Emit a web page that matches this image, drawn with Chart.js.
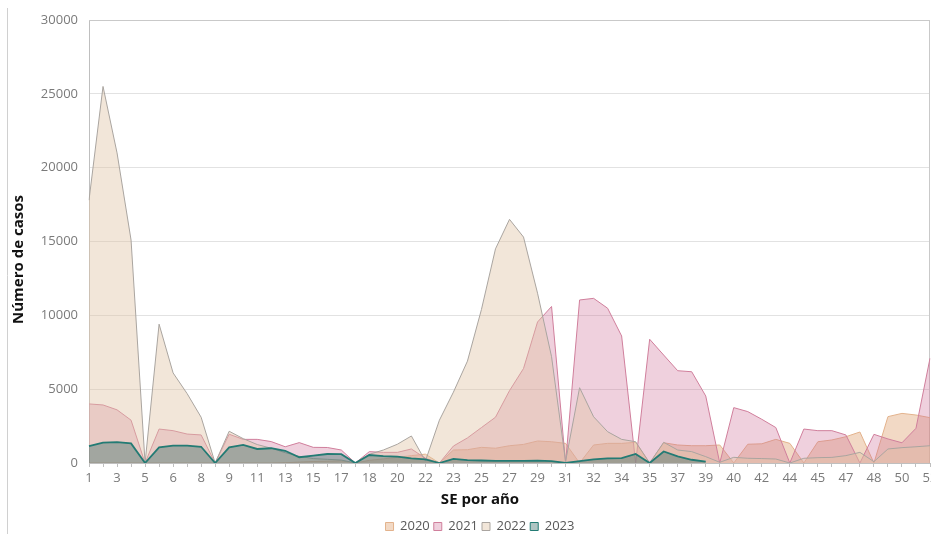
<!DOCTYPE html>
<html lang="es">
<head>
<meta charset="utf-8">
<title>Número de casos por SE</title>
<script src="https://cdn.jsdelivr.net/npm/chart.js@4.4.0/dist/chart.umd.min.js"></script>
<style>
    html, body { margin: 0; padding: 0; background: #fff; overflow: hidden; }
    #wrap { position: relative; width: 960px; height: 543px; }
</style>
</head>
<body>
<div id="wrap"><canvas id="casosChart"></canvas></div>
<script>
// '' = separador entre meses (sin etiqueta)
const weekLabels = ['1','2','3','4','5','','6','7','8','','9','10','11','12','13','14','15','16','17','',
    '18','19','20','21','22','','23','24','25','26','27','28','29','30','31','','32','33','34','',
    '35','36','37','38','39','','40','41','42','43','44','','45','46','47','','48','49','50','51','52'];

const cases2020 = [0,0,0,0,0, 0, 0,0,0, 0,
    0,0,0,0,20,60,100,120,150, 0, 180,280,380,500,600, 0,
    880,900,1060,1000,1170,1260,1490,1440,1330, 0, 1220,1330,1330, 1400,
    0,1370,1220,1170,1170, 1220, 0,1270,1300,1600,1330, 0, 1440,1560,1780, 2100,
    0,3140,3360,3250,3070];

const cases2021 = [4000,3930,3600,2900,0, 2300, 2190,1960,1900, 0,
    1950,1600,1600,1450,1100,1380,1060,1050,880, 0, 770,720,720,950,320, 0,
    1150,1700,2400,3100,4900,6400,9550,10600,0, 11040, 11150,10480,8600, 0,
    8380,7310,6250,6180,4540, 0, 3750,3480,2960,2400,0, 2300, 2190,2190,1900, 0,
    1940,1630,1370,2350,7090];

const cases2022 = [17800,25500,21000,15100,0, 9400, 6100,4700,3100, 0,
    2150,1650,1250,1000,700,450,300,250,200, 0, 590,880,1270,1830,130, 2900,
    4800,6900,10400,14500,16500,15300,11500,7200,100, 5100, 3130,2120,1600, 1440,
    0,1400,880,770,430, 50, 385,320,300,270,0, 320, 360,380,500, 720,
    90,950,1040,1100,1170];

const cases2023 = [1150,1380,1420,1330,0, 1060, 1170,1170,1100, 0,
    1060,1220,950,1000,830,390,500,610,600, 0, 540,470,430,320,250, 0,
    280,200,170,150,140,140,160,130,0, 130, 250,320,330, 610, 0,780,450,220,90,
    null,null,null,null,null,null,null,null,null,null,null,null,null,null,null,null];

const yTicks = [0, 5000, 10000, 15000, 20000, 25000, 30000];
const xTitle = 'SE por año';
const yTitle = 'Número de casos';

Chart.defaults.font.family = '"Open Sans", sans-serif';
Chart.defaults.color = '#7a7a7a';

// marco del área de trazado + títulos de ejes
const chartFrame = {
    id: 'chartFrame',
    beforeDatasetsDraw(chart) {
        const { ctx, chartArea: a } = chart;
        ctx.save();
        ctx.strokeStyle = '#c9c9c9';
        ctx.lineWidth = 1;
        ctx.beginPath();
        ctx.moveTo(a.left, a.top + 0.5);
        ctx.lineTo(a.right, a.top + 0.5);
        ctx.moveTo(a.right - 0.5, a.top);
        ctx.lineTo(a.right - 0.5, a.bottom);
        ctx.stroke();
        ctx.strokeStyle = '#d0d0d0';
        ctx.beginPath();
        ctx.moveTo(7.5, 8);
        ctx.lineTo(7.5, chart.height);
        ctx.stroke();
        ctx.restore();
    },
    afterDraw(chart) {
        const { ctx, chartArea: a } = chart;
        ctx.save();
        ctx.font = 'bold 15px "Open Sans", sans-serif';
        ctx.fillStyle = '#111';
        ctx.textAlign = 'center';
        ctx.textBaseline = 'middle';
        ctx.fillText(xTitle, chart.width / 2, a.bottom + 37);
        ctx.translate(19, (a.top + a.bottom) / 2 + 18);
        ctx.rotate(-Math.PI / 2);
        ctx.fillText(yTitle, 0, 0);
        ctx.restore();
    }
};

function area(label, data, fill, border, width, order) {
    return {
        label, data, order,
        backgroundColor: fill,
        borderColor: border,
        borderWidth: width,
        fill: 'origin',
        tension: 0,
        pointRadius: 0,
        spanGaps: false
    };
}

new Chart(document.getElementById('casosChart'), {
    type: 'line',
    data: {
        labels: weekLabels,
        datasets: [
            area('2020', cases2020, 'rgba(222,160,110,0.40)', '#e3b28c', 1, 4),
            area('2021', cases2021, 'rgba(205,110,150,0.32)', '#d07f9c', 1, 3),
            area('2022', cases2022, 'rgba(225,195,165,0.42)', '#aaa5a0', 1, 2),
            area('2023', cases2023, 'rgba(55,110,105,0.40)', '#237b74', 1.8, 1)
        ]
    },
    options: {
        responsive: true,
        maintainAspectRatio: false,
        animation: false,
        layout: { padding: { top: 20, left: 0, right: 0, bottom: 0 } },
        plugins: {
            legend: {
                position: 'bottom',
                reverse: true,
                labels: {
                    boxWidth: 8, boxHeight: 8, padding: 4, color: '#595959', font: { size: 13 },
                    generateLabels: chart => Chart.defaults.plugins.legend.labels.generateLabels(chart)
                        .map(item => ({ ...item, lineWidth: 1 }))
                }
            },
            tooltip: { enabled: false }
        },
        scales: {
            x: {
                grid: { drawOnChartArea: false, color: '#bfbfbf', tickLength: 4 },
                border: { color: '#bfbfbf' },
                ticks: {
                    autoSkip: false,
                    maxRotation: 0,
                    padding: 3,
                    font: { size: 13 },
                    callback: (v, i) => (i % 2 === 0 ? weekLabels[i] : '')
                },
                afterFit(scale) {
                    scale.height = 53;
                    scale.paddingRight = 30;
                }
            },
            y: {
                min: 0,
                max: 30000,
                afterBuildTicks(scale) { scale.ticks = yTicks.map(v => ({ value: v })); },
                grid: { color: '#e2e2e2', drawTicks: false },
                border: { color: '#bfbfbf' },
                ticks: { padding: 11, font: { size: 13 }, callback: v => String(v) },
                afterFit(scale) { scale.width = 89; }
            }
        }
    },
    plugins: [chartFrame]
});
</script>
</body>
</html>
